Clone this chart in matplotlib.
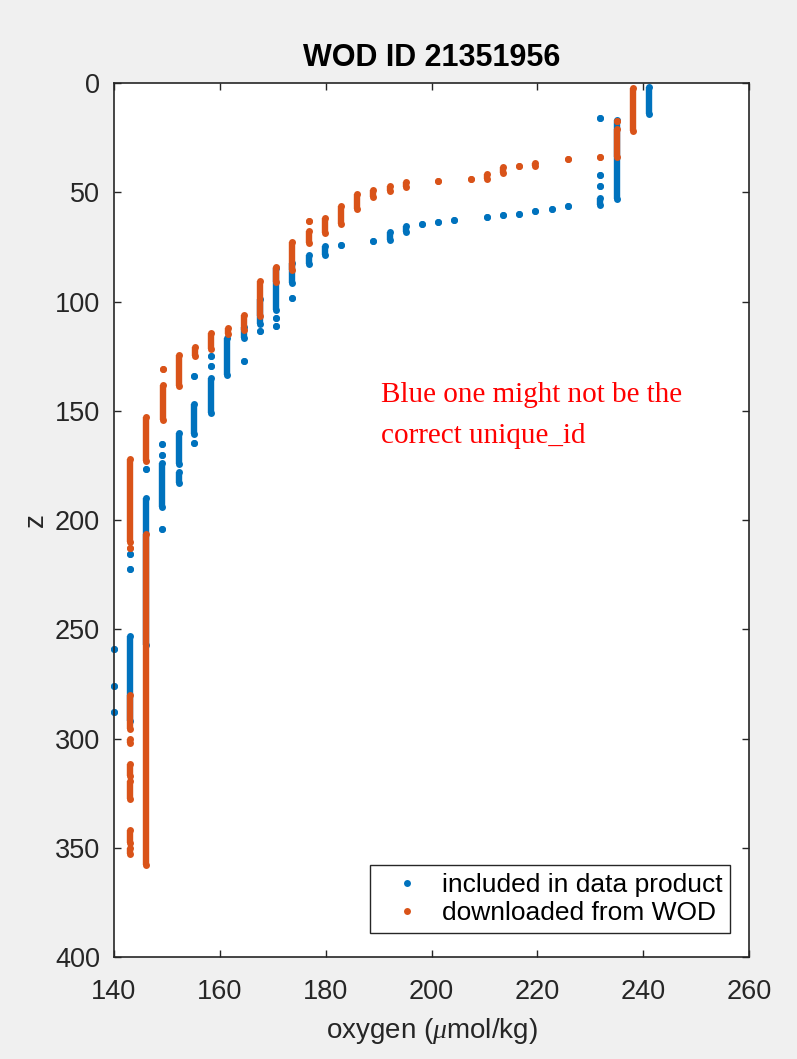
import numpy as np
import matplotlib
matplotlib.use('Agg')
from matplotlib import pyplot as plt
from matplotlib.lines import Line2D

# runs of equal oxygen: oxygen, top depth, bottom depth
# (a single dot has top == bottom)
inc_oxy = [140.0, 140.0, 140.0,
           143.1, 143.1, 143.1,
           146.1, 146.1,
           149.1, 149.1, 149.1, 149.1,
           152.2, 152.2,
           155.2, 155.2, 155.2,
           158.3, 158.3, 158.3,
           161.4,
           164.5, 164.5,
           167.6, 167.6,
           170.6, 170.6, 170.6,
           173.7, 173.7,
           176.8, 179.8, 182.9, 189.0, 192.1, 195.2, 198.2, 201.3, 204.3,
           210.5, 213.5, 216.6, 219.6, 222.7, 225.8,
           231.9, 231.9, 231.9, 231.9,
           235.0, 241.1]
inc_top = [259, 276, 288,
           215.5, 222.5, 253,
           176.5, 190,
           165.3, 170.2, 174, 204,
           160, 178,
           134, 147, 164.8,
           125, 129.5, 135,
           116.5,
           111.5, 127,
           99, 113.5,
           84.6, 107.5, 111.3,
           82.3, 98.3,
           78.5, 74.7, 74.3, 72.5, 68, 65.6, 64.5, 63.6, 62.6,
           61.5, 60.6, 59.8, 58.6, 57.5, 56.5,
           16, 42, 47, 52.5,
           17, 2]
inc_bot = [259, 276, 288,
           215.5, 222.5, 292,
           176.5, 257,
           165.3, 170.2, 194, 204,
           174.5, 183,
           134, 160.7, 164.8,
           125, 129.5, 150.8,
           133.8,
           116.6, 127,
           110.5, 113.5,
           103.7, 107.5, 111.3,
           91.5, 98.3,
           83, 78.5, 74.3, 72.5, 72, 68, 64.5, 63.6, 62.6,
           61.5, 60.6, 59.8, 58.6, 57.5, 56.5,
           16, 42, 47, 56,
           53, 14]

wod_oxy = [143.1, 143.1, 143.1, 143.1, 143.1, 143.1, 143.1, 143.1,
           146.1, 146.1,
           149.2, 149.2,
           152.3, 155.3, 158.4, 161.5, 164.5, 167.6, 170.6, 173.7,
           176.8, 176.8,
           179.8, 182.9, 186.0, 189.0, 192.1, 195.2, 201.3, 207.4,
           210.5, 213.5, 216.6, 219.6, 225.8, 231.9,
           235.0, 235.0, 238.0]
wod_top = [172, 213, 280, 300, 311.6, 319.6, 342, 350,
           153, 206.4,
           131, 138,
           124.5, 121, 114.3, 112.3, 106, 90.5, 84.3, 72.7,
           63.3, 67.9,
           61.8, 56.5, 50.7, 48.8, 47, 45.5, 44.7, 43.8,
           41.5, 38.5, 38, 36.4, 35, 34,
           17.5, 21, 2.4]
wod_bot = [210, 213, 295.6, 302, 317, 327.5, 348, 353,
           173, 358,
           131, 154,
           138.7, 125, 121.9, 115, 113, 106.7, 91, 85.4,
           63.3, 73.2,
           68.6, 64.4, 57.7, 52.2, 49.6, 47.5, 44.7, 43.8,
           44, 41, 38, 38, 35, 34,
           17.5, 34, 21.8]

blue = '#0072BD'
orange = '#D95319'

plt.rcParams['font.family'] = ['Liberation Sans', 'DejaVu Sans']
plt.rcParams['mathtext.fontset'] = 'custom'
plt.rcParams['mathtext.rm'] = 'Liberation Sans'
plt.rcParams['mathtext.it'] = 'Liberation Serif:italic'

fig = plt.figure(figsize=(7.97, 10.59), dpi=100, facecolor='#f0f0f0')
ax = fig.add_axes([0.143, 0.0963, 0.797, 0.8253])


def draw(oxy, top, bot, color):
    ax.vlines(oxy, top, bot, colors=color, linewidth=4.6)
    ax.plot(oxy, top, 'o', color=color, ms=5, mew=0, clip_on=False)
    ax.plot(oxy, bot, 'o', color=color, ms=5, mew=0, clip_on=False)


draw(inc_oxy, inc_top, inc_bot, blue)
draw(wod_oxy, wod_top, wod_bot, orange)

ax.set_xlim(140, 260)
ax.set_ylim(400, 0)
ax.set_xticks(np.arange(140, 261, 20))
ax.set_yticks(np.arange(0, 401, 50))
ax.tick_params(direction='in', length=5, width=1, colors='#262626',
               labelsize=19.5, top=True, right=True)
ax.tick_params(axis='y', pad=10)
ax.tick_params(axis='x', pad=16)
for s in ax.spines.values():
    s.set_color('#262626')
    s.set_linewidth(1.2)

ax.set_title('WOD ID 21351956', fontsize=22, fontweight='bold', pad=12)
ax.set_xlabel('oxygen ($\\mu$mol/kg)', fontsize=20, color='#262626', labelpad=8)
ax.set_ylabel('z', fontsize=20, color='#262626')

ax.text(190.5, 137, 'Blue one might not be the\ncorrect unique_id',
        family='Liberation Serif', fontsize=21, color='red',
        va='top', ha='left', linespacing=1.75)

handles = [Line2D([], [], ls='none', marker='o', ms=5, mew=0, color=blue),
           Line2D([], [], ls='none', marker='o', ms=5, mew=0, color=orange)]
leg = ax.legend(handles, ['included in data product', 'downloaded from WOD'],
                loc='lower right', bbox_to_anchor=(0.970, 0.0275),
                borderaxespad=0, fontsize=19, fancybox=False, framealpha=1,
                edgecolor='#262626', borderpad=0.3, labelspacing=0.15,
                handlelength=2.2, handletextpad=0.2)
leg.get_frame().set_linewidth(1.0)

plt.savefig('out.png', dpi=100, facecolor=fig.get_facecolor())
